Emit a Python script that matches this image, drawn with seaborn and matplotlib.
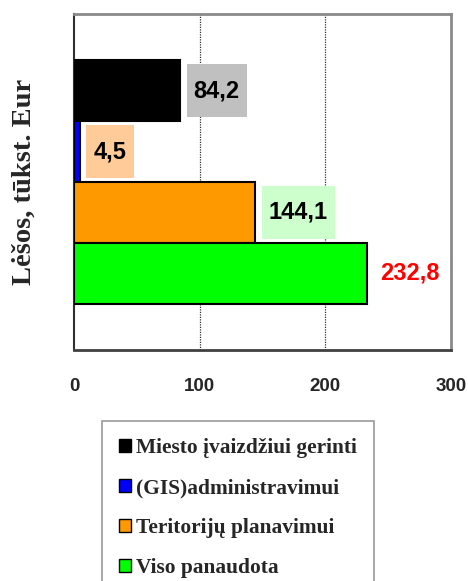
import matplotlib
matplotlib.use("Agg")
import matplotlib.pyplot as plt
import seaborn as sns
import pandas as pd
from matplotlib.path import Path

# ---- data ----
category = ["Lėšos"]
series = ["Miesto įvaizdžiui gerinti", "(GIS)administravimui",
          "Teritorijų planavimui", "Viso panaudota"]
values = [84.2, 4.5, 144.1, 232.8]
value_labels = ["84,2", "4,5", "144,1", "232,8"]
colors = ["#000000", "#0000ff", "#ff9900", "#00ff00"]
label_box_colors = ["#c0c0c0", "#ffcc99", "#ccffcc", "none"]
label_text_colors = ["#000000", "#000000", "#000000", "#ff0000"]
x_ticks = [0, 100, 200, 300]
y_title = "Lėšos, tūkst. Eur"

df = pd.DataFrame({"cat": category * len(series), "series": series, "value": values})

sns.set_style("white")
plt.rcParams["font.family"] = ["Liberation Sans", "DejaVu Sans"]

fig = plt.figure(figsize=(4.68, 5.81), dpi=100)
ax = fig.add_axes([74 / 468, 1 - 350 / 581, 377 / 468, 336 / 581])

sns.barplot(data=df, x="value", y="cat", hue="series", hue_order=series,
            palette=colors, orient="h", width=0.726, edgecolor="black",
            linewidth=1.5, ax=ax, saturation=1, legend=True, zorder=3)

ax.set_xlim(0, 300)
ax.set_ylim(0.5, -0.5)
ax.set_xticks(x_ticks)
ax.set_xticklabels([str(t) for t in x_ticks], fontsize=13.5, fontweight="bold")
ax.set_yticks([-0.5, 0.5])
ax.set_yticklabels(["", ""])
ax.set_xlabel("")
ax.set_ylabel(y_title, fontsize=20.5, fontweight="bold",
              family=["Liberation Serif", "DejaVu Serif"])
ax.yaxis.set_label_coords(-0.100, 0.5)

ax.tick_params(axis="x", direction="out", length=7, width=1, color="#404040", pad=13)
ax.tick_params(axis="y", direction="out", length=8, width=1.2, color="#303030")

for v in [100, 200]:
    ax.axvline(v, color="#303030", linestyle=(0, (1, 1)), linewidth=0.9, zorder=1)

ax.spines["top"].set_color("#8a8a8a")
ax.spines["right"].set_color("#8a8a8a")
ax.spines["top"].set_linewidth(2)
ax.spines["right"].set_linewidth(2)
ax.spines["bottom"].set_color("#404040")
ax.spines["bottom"].set_linewidth(2)
ax.spines["left"].set_color("#303030")
ax.spines["left"].set_linewidth(1.5)


def make_box(padx, pady):
    def box(x0, y0, width, height, mutation_size):
        px = padx * mutation_size
        py = pady * mutation_size
        x0, y0 = x0 - px, y0 - py
        x1, y1 = x0 + width + 2 * px, y0 + height + 2 * py
        return Path([(x0, y0), (x1, y0), (x1, y1), (x0, y1), (x0, y0)], closed=True)
    return box


for cont, lab, bc, tc in zip(ax.containers, value_labels, label_box_colors, label_text_colors):
    bbox = None
    if bc != "none":
        bbox = dict(boxstyle=make_box(0.3, 0.65), facecolor=bc, edgecolor="none")
    ax.bar_label(cont, labels=[lab], padding=10, fontsize=17, fontweight="bold",
                 color=tc, bbox=bbox)

handles, labels = ax.get_legend_handles_labels()
ax.get_legend().remove()
for h in handles:
    h.set_edgecolor("black")
    h.set_linewidth(1)
leg = fig.legend(handles, labels, loc="upper left",
                 bbox_to_anchor=(102 / 468, 1 - 421 / 581),
                 bbox_transform=fig.transFigure, borderaxespad=0,
                 frameon=True, fancybox=False, edgecolor="#808080",
                 handlelength=0.55, handleheight=0.55, handletextpad=0.25,
                 labelspacing=0.93, borderpad=0.8,
                 prop=dict(family=["Liberation Serif", "DejaVu Serif"], weight="bold", size=15.4))
leg.get_frame().set_linewidth(1.2)

fig.savefig("out.png", dpi=100)
